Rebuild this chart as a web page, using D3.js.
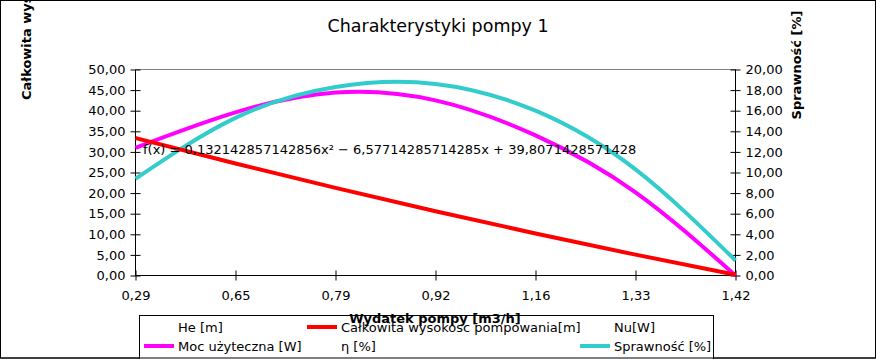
<!DOCTYPE html>
<html><head><meta charset="utf-8">
<script src="https://cdn.jsdelivr.net/npm/d3@7"></script>
<style>body{margin:0;background:#fff}svg{display:block;font-family:"DejaVu Sans",sans-serif}</style>
</head><body><svg id="c" width="876" height="359"></svg>
<script>
const categories = ["0,29","0,65","0,79","0,92","1,16","1,33","1,42"];
const headValues = [33.36,27.18,21.26,15.60,10.20,5.06,0.18];
const powerValues = [31.0,39.6,44.4,42.5,34.0,20.2,0.0];
const efficiencyValues = [9.39,15.3,18.3,18.6,16.0,10.3,1.46];
const leftTicks = [0,5,10,15,20,25,30,35,40,45,50];
const rightTicks = [0,2,4,6,8,10,12,14,16,18,20];
const legendItems = [
  {name:"He [m]", color:null},
  {name:"Całkowita wysokosc pompowania[m]", color:"#ff0000"},
  {name:"Nu[W]", color:null},
  {name:"Moc użyteczna [W]", color:"#ff00ff"},
  {name:"η [%]", color:null},
  {name:"Sprawność [%]", color:"#33cccc"}
];
const formulaText = "f(x) = 0,132142857142856x² − 6,57714285714285x + 39,8071428571428";

const svg = d3.select("#c");
const L=135.5, R=735.5, T=69.5, B=275.5;
const fmt = v => d3.format(".2f")(v).replace(".",",");
const x = d3.scalePoint().domain(categories).range([L,R]);
const yL = d3.scaleLinear().domain([0,50]).range([B,T]);
const yR = d3.scaleLinear().domain([0,20]).range([B,T]);

svg.append("rect").attr("x",0.5).attr("y",0.5).attr("width",875).attr("height",357.5)
  .attr("fill","#fff").attr("stroke","#000");

svg.append("line").attr("x1",L).attr("x2",R).attr("y1",yL(50)).attr("y2",yL(50)).attr("stroke","#808080");

const gL = svg.append("g").attr("transform",`translate(${L},0)`)
  .call(d3.axisLeft(yL).tickValues(leftTicks).tickFormat(fmt).tickSize(5).tickPadding(5));
gL.selectAll(".tick line").attr("x2",5).attr("x1",-5);
const gR = svg.append("g").attr("transform",`translate(${R},0)`)
  .call(d3.axisRight(yR).tickValues(rightTicks).tickFormat(fmt).tickSize(5).tickPadding(5));
gR.selectAll(".tick line").attr("x2",5).attr("x1",-5);
const gX = svg.append("g").attr("transform",`translate(0,${B})`)
  .call(d3.axisBottom(x).tickSize(5).tickPadding(10));
gX.selectAll(".tick line").attr("y1",-5).attr("y2",5);
[gL,gR,gX].forEach(g=>{
  g.select(".domain").remove();
  g.selectAll("text").attr("font-size",13).attr("font-family","DejaVu Sans").attr("fill","#000");
});
gX.selectAll("text").attr("dy","0.71em");
svg.append("line").attr("x1",L).attr("x2",L).attr("y1",T).attr("y2",B).attr("stroke","#000");
svg.append("line").attr("x1",R).attr("x2",R).attr("y1",T).attr("y2",B).attr("stroke","#000");
svg.append("line").attr("x1",L).attr("x2",R).attr("y1",B).attr("y2",B).attr("stroke","#000");

const lineL = d3.line().x((d,i)=>x(categories[i])).y(d=>yL(d)).curve(d3.curveNatural);
const lineR = d3.line().x((d,i)=>x(categories[i])).y(d=>yR(d)).curve(d3.curveNatural);
svg.append("path").attr("d",lineL(powerValues)).attr("fill","none").attr("stroke","#ff00ff").attr("stroke-width",4);
svg.append("path").attr("d",lineR(efficiencyValues)).attr("fill","none").attr("stroke","#33cccc").attr("stroke-width",4);
svg.append("path").attr("d",lineL(headValues)).attr("fill","none").attr("stroke","#ff0000").attr("stroke-width",4);

svg.append("text").attr("x",143).attr("y",153.5).attr("font-size",13).text(formulaText);

svg.append("text").attr("x",438).attr("y",32).attr("text-anchor","middle").attr("font-size",17.5).text("Charakterystyki pompy 1");
svg.append("text").attr("transform","translate(31,100) rotate(-90)").attr("font-size",13).attr("font-weight","bold")
  .text("Całkowita wysokość pompowania [m]");
svg.append("text").attr("transform","translate(801,65) rotate(-90)").attr("text-anchor","middle").attr("font-size",13).attr("font-weight","bold")
  .text("Sprawność [%]");

const lg = svg.append("g");
lg.append("rect").attr("x",139.5).attr("y",315.5).attr("width",574).attr("height",44).attr("fill","#fff").attr("stroke","#000");
const colX = [144,307,580];
legendItems.forEach((d,i)=>{
  const cx = colX[i%3], cy = 327 + Math.floor(i/3)*19;
  if(d.color) lg.append("line").attr("x1",cx).attr("x2",cx+30).attr("y1",cy).attr("y2",cy).attr("stroke",d.color).attr("stroke-width",4);
  lg.append("text").attr("x",cx+34).attr("y",cy+5).attr("font-size",13).text(d.name);
});
svg.append("text").attr("x",435).attr("y",322.5).attr("text-anchor","middle").attr("font-size",13).attr("font-weight","bold").text("Wydatek pompy [m3/h]");
svg.append("rect").attr("x",0.5).attr("y",0.5).attr("width",875).attr("height",357.5).attr("fill","none").attr("stroke","#000");
</script></body></html>
